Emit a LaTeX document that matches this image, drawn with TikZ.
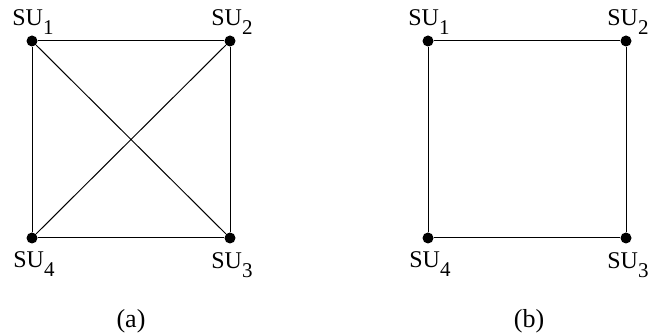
\documentclass[tikz,border=0pt]{standalone}
\usepackage{fontspec}
\setmainfont{Liberation Serif}
\usetikzlibrary{positioning}
\newcommand{\su}[1]{SU\raisebox{-4.5pt}{\fontsize{10.5}{12}\selectfont #1}}

\begin{document}
\begin{tikzpicture}[x=0.5pt,y=-0.5pt,
    dot/.style={circle,fill,inner sep=0pt,minimum size=5.5pt},
    edge/.style={line width=0.5pt},
    tag/.style={anchor=base west,inner sep=0pt,font=\fontsize{12}{14}\selectfont},
    subcap/.style={anchor=base,inner sep=0pt,font=\fontsize{13}{15}\selectfont}]
  \useasboundingbox (0,0) rectangle (654,335);
  % (a) all four users linked
  \node[dot] (a1) at (32,41){};
  \node[dot] (a2) at (230,41){};
  \node[dot] (a3) at (230,238){};
  \node[dot] (a4) at (32,238){};
  \node[tag] (la1) at ([shift={(-20,-15)}]a1.center){\su1};
  \node[tag] (la2) at ([shift={(-19,-15)}]a2.center){\su2};
  \node[tag] (la3) at ([shift={(-19,31)}]a3.center){\su3};
  \node[tag] (la4) at ([shift={(-19,30)}]a4.center){\su4};
  \draw[edge] (a1)--(a2)--(a3)--(a4)--(a1);
  \draw[edge] (a1)--(a3) (a2)--(a4);
  \node[subcap] (capa) at (131,328){(a)};
  % (b) ring only
  \node[dot] (b1) at (428,41){};
  \node[dot] (b2) at (626,41){};
  \node[dot] (b3) at (626,238){};
  \node[dot] (b4) at (428,238){};
  \node[tag] (lb1) at ([shift={(-20,-15)}]b1.center){\su1};
  \node[tag] (lb2) at ([shift={(-19,-15)}]b2.center){\su2};
  \node[tag] (lb3) at ([shift={(-19,31)}]b3.center){\su3};
  \node[tag] (lb4) at ([shift={(-19,30)}]b4.center){\su4};
  \draw[edge] (b1)--(b2)--(b3)--(b4)--(b1);
  \node[subcap] (capb) at (529,328){(b)};
\end{tikzpicture}
\end{document}
